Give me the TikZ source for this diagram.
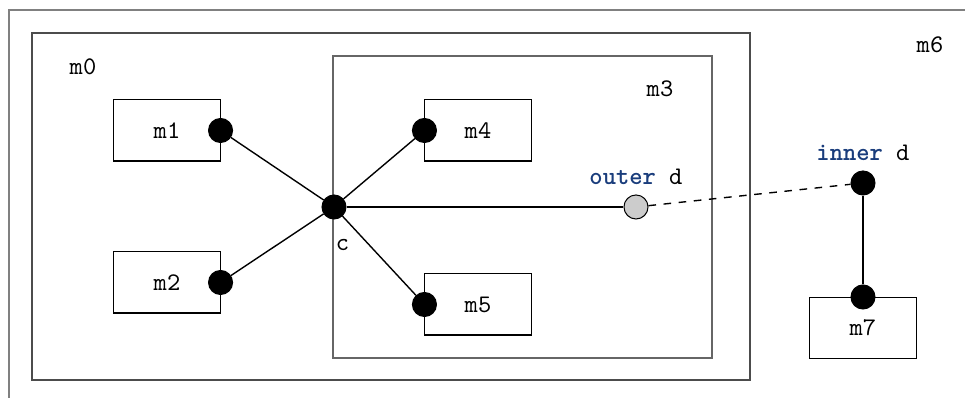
\documentclass[tikz,border=0pt]{standalone}
\usepackage{xcolor}
\usepackage{tikz}
\usetikzlibrary{positioning}
\usetikzlibrary{calc}

\definecolor{keyblue}{HTML}{1A3D7C}
\definecolor{portgray}{HTML}{CCCCCC}

\tikzset{
    frame/.style={draw=black!55, line width=0.7pt},
    box/.style={draw, rectangle, inner sep=0pt, minimum width=41.9pt,
        minimum height=24.1pt, font=\ttfamily},
    port/.style={circle, draw, fill=black, inner sep=0pt, minimum size=9.5pt},
    outport/.style={port, fill=portgray},
    lbl/.style={font=\ttfamily, inner sep=1pt},
    link/.style={line width=0.55pt},
}
\newcommand{\kw}[1]{\textcolor{keyblue}{\bfseries #1}}

\begin{document}
\begin{tikzpicture}[x=0.395pt, y=-0.395pt]
    \useasboundingbox (0,0) rectangle (965,398);
    \clip (0,0) rectangle (965,398);

    % containers
    \draw[frame, draw=black!50, line width=0.8pt] (9,10) rectangle (1000,420);
    \draw[frame, draw=black!70, line width=0.6pt] (32,33) rectangle (750,380);
    \draw[frame, draw=black!60, line width=0.5pt] (333,56) rectangle (712,358);
    \node[lbl] (m6lbl) at (930,45) {m6};
    \node[lbl] (m0lbl) at (83,67) {m0};
    \node[lbl] (m3lbl) at (660,89) {m3};

    % blocks
    \node[box] (m1) at (167,130.5) {m1};
    \node[box] (m2) at (167,282.5) {m2};
    \node[box] (m4) at (478,130.5) {m4};
    \node[box] (m5) at (478,304.5) {m5};
    \node[box] (m7) at (863,328) {m7};

    % ports
    \node[port] (m1p) at (m1.east) {};
    \node[port] (m2p) at (m2.east) {};
    \node[port] (m4p) at (m4.west) {};
    \node[port] (m5p) at (m5.west) {};
    \node[port] (m7p) at (m7.north) {};
    \node[port] (c) at (334,207) {};
    \node[lbl, below right=8pt and -4pt of c] (clbl) {c};
    \node[outport] (od) at (636,207) {};
    \node[lbl, above=2.5pt of od] (odlbl) {\kw{outer} d};
    \node[port] (id) at (863,183) {};
    \node[lbl, above=2.5pt of id] (idlbl) {\kw{inner} d};

    % links
    \draw[link] (m1p) -- (c);
    \draw[link] (m2p) -- (c);
    \draw[link] (m4p) -- (c);
    \draw[link] (m5p) -- (c);
    \draw[link] (c) -- (od);
    \draw[link, dashed] (od) -- (id);
    \draw[link] (id) -- (m7p);
\end{tikzpicture}
\end{document}
